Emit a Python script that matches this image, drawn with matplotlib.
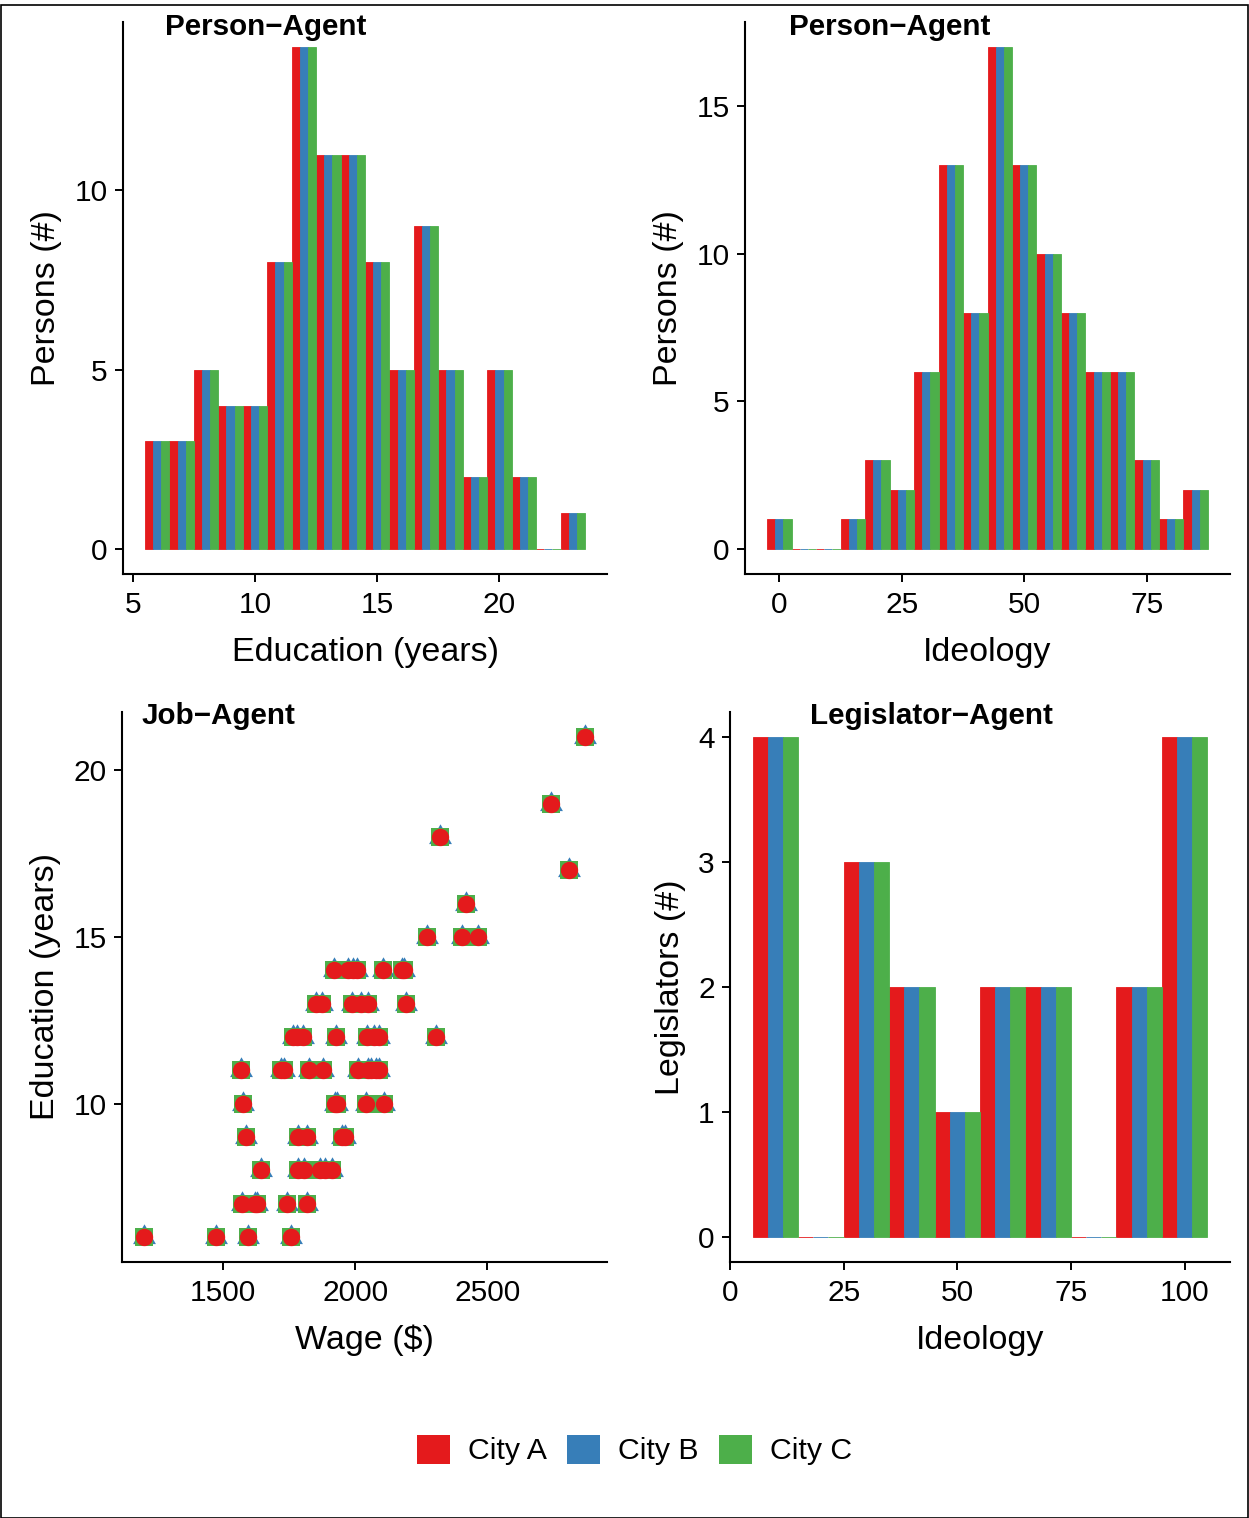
import matplotlib
matplotlib.use("Agg")
import matplotlib.pyplot as plt
from matplotlib.patches import Patch, Rectangle
import numpy as np

plt.rcParams['font.family'] = ['Liberation Sans', 'DejaVu Sans']

cities = ["City A", "City B", "City C"]
colors = ["#E41A1C", "#377EB8", "#4DAF4A"]

# Person-Agent: education histogram (bins of 1 year, same counts for each city)
edu_bins = [6, 7, 8, 9, 10, 11, 12, 13, 14, 15, 16, 17, 18, 19, 20, 21, 22, 23]
edu_counts_a = [3, 3, 5, 4, 4, 8, 14, 11, 11, 8, 5, 9, 5, 2, 5, 2, 0, 1]
edu_counts_b = [3, 3, 5, 4, 4, 8, 14, 11, 11, 8, 5, 9, 5, 2, 5, 2, 0, 1]
edu_counts_c = [3, 3, 5, 4, 4, 8, 14, 11, 11, 8, 5, 9, 5, 2, 5, 2, 0, 1]

# Person-Agent: ideology histogram (bins of 5)
ideo_bins = [0, 5, 10, 15, 20, 25, 30, 35, 40, 45, 50, 55, 60, 65, 70, 75, 80, 85]
ideo_counts_a = [1, 0, 0, 1, 3, 2, 6, 13, 8, 17, 13, 10, 8, 6, 6, 3, 1, 2]
ideo_counts_b = [1, 0, 0, 1, 3, 2, 6, 13, 8, 17, 13, 10, 8, 6, 6, 3, 1, 2]
ideo_counts_c = [1, 0, 0, 1, 3, 2, 6, 13, 8, 17, 13, 10, 8, 6, 6, 3, 1, 2]

# Legislator-Agent: ideology histogram (bins of 10)
leg_bins = [10, 20, 30, 40, 50, 60, 70, 80, 90, 100]
leg_counts_a = [4, 0, 3, 2, 1, 2, 2, 0, 2, 4]
leg_counts_b = [4, 0, 3, 2, 1, 2, 2, 0, 2, 4]
leg_counts_c = [4, 0, 3, 2, 1, 2, 2, 0, 2, 4]

# Job-Agent: wage vs education (identical for the three cities)
job_wage = [2869, 2740, 2321, 2807, 2418,
            2273, 2403, 2466,
            1922, 1975, 1991, 2009, 2107, 2177, 2186,
            1851, 1874, 1989, 2024, 2047, 2194,
            1765, 1780, 1802, 1927, 2046, 2073, 2092, 2306,
            1569, 1720, 1733, 1827, 1878, 2010, 2050, 2060, 2078, 2092,
            1577, 1924, 1933, 2043, 2108,
            1589, 1786, 1820, 1952, 1962,
            1644, 1786, 1805, 1868, 1886, 1913,
            1574, 1621, 1631, 1743, 1817,
            1202, 1476, 1597, 1757]
job_edu = [21, 19, 18, 17, 16,
           15, 15, 15,
           14, 14, 14, 14, 14, 14, 14,
           13, 13, 13, 13, 13, 13,
           12, 12, 12, 12, 12, 12, 12, 12,
           11, 11, 11, 11, 11, 11, 11, 11, 11, 11,
           10, 10, 10, 10, 10,
           9, 9, 9, 9, 9,
           8, 8, 8, 8, 8, 8,
           7, 7, 7, 7, 7,
           6, 6, 6, 6]

W, H = 1249, 1518
fig = plt.figure(figsize=(W / 100, H / 100), dpi=100)

TICK = 21.5
LAB = 24.5


def make_ax(l, t, r, b):
    ax = fig.add_axes([l / W, 1 - b / H, (r - l) / W, (b - t) / H])
    for s in ["top", "right"]:
        ax.spines[s].set_visible(False)
    for s in ["left", "bottom"]:
        ax.spines[s].set_linewidth(1.5)
    ax.tick_params(labelsize=TICK, length=6, width=1.4, pad=5, colors="black")
    ax.tick_params(axis="x", pad=6)
    return ax


def dodge_hist(ax, centers, series, width):
    c = np.array(centers, dtype=float)
    w = width / 3.0
    for i, counts in enumerate(series):
        ax.bar(c + (i - 1) * w, counts, width=w, color=colors[i],
               edgecolor=colors[i], linewidth=0.6)


# top-left
ax1 = make_ax(123, 22, 607, 574)
dodge_hist(ax1, edu_bins, [edu_counts_a, edu_counts_b, edu_counts_c], 1.0)
ax1.set_xlim(4.6, 24.4)
ax1.set_ylim(-0.7, 14.7)
ax1.set_xticks([5, 10, 15, 20])
ax1.set_yticks([0, 5, 10])
ax1.set_xlabel("Education (years)", fontsize=LAB, labelpad=13)
ax1.set_ylabel("Persons (#)", fontsize=LAB, labelpad=9)

# top-right
ax2 = make_ax(745, 22, 1230, 574)
dodge_hist(ax2, ideo_bins, [ideo_counts_a, ideo_counts_b, ideo_counts_c], 5.0)
ax2.set_xlim(-7, 92)
ax2.set_ylim(-0.85, 17.85)
ax2.set_xticks([0, 25, 50, 75])
ax2.set_yticks([0, 5, 10, 15])
ax2.set_xlabel("Ideology", fontsize=LAB, labelpad=13)
ax2.set_ylabel("Persons (#)", fontsize=LAB, labelpad=9)

# bottom-left
ax3 = make_ax(122, 712, 607, 1262)
tri = [(0, 1), (-0.866, -0.5), (0.866, -0.5)]
ax3.plot(job_wage, job_edu, linestyle="none", marker=tri, markersize=19,
         color=colors[1], markeredgewidth=0)
ax3.plot(job_wage, job_edu, linestyle="none", marker="s", markersize=13,
         color=colors[2], markeredgewidth=0)
ax3.plot(job_wage, job_edu, linestyle="none", marker="o", markersize=12.5,
         color=colors[0], markeredgewidth=0)
ax3.set_xlim(1119, 2952)
ax3.set_ylim(5.25, 21.75)
ax3.set_xticks([1500, 2000, 2500])
ax3.set_yticks([10, 15, 20])
ax3.set_xlabel("Wage ($)", fontsize=LAB, labelpad=13)
ax3.set_ylabel("Education (years)", fontsize=LAB, labelpad=9)

# bottom-right
ax4 = make_ax(730, 712, 1230, 1262)
dodge_hist(ax4, leg_bins, [leg_counts_a, leg_counts_b, leg_counts_c], 10.0)
ax4.set_xlim(0, 110)
ax4.set_ylim(-0.2, 4.2)
ax4.set_xticks([0, 25, 50, 75, 100])
ax4.set_yticks([0, 1, 2, 3, 4])
ax4.set_xlabel("Ideology", fontsize=LAB, labelpad=13)
ax4.set_ylabel("Legislators (#)", fontsize=LAB, labelpad=9)

# panel labels
for txt, x, y in [("Person\u2212Agent", 165, 27), ("Person\u2212Agent", 789, 27),
                  ("Job\u2212Agent", 141, 716), ("Legislator\u2212Agent", 810, 716)]:
    fig.text(x / W, 1 - y / H, txt, fontsize=21.3, fontweight="bold",
             ha="left", va="center")

# legend
handles = [Patch(facecolor=c, edgecolor="none") for c in colors]
fig.legend(handles, cities, loc="center", bbox_to_anchor=(634.5 / W, 1 - 1450 / H),
           ncol=3, frameon=False, fontsize=21.8, handlelength=1.09, handleheight=1.09,
           handletextpad=0.6, columnspacing=0.66)

# outer frame
fig.patches.append(Rectangle((1 / W, 0), 1 - 2 / W, 1 - 4.5 / H, transform=fig.transFigure,
                             fill=False, edgecolor="black", linewidth=1.2))

fig.savefig("out.png", dpi=100)
